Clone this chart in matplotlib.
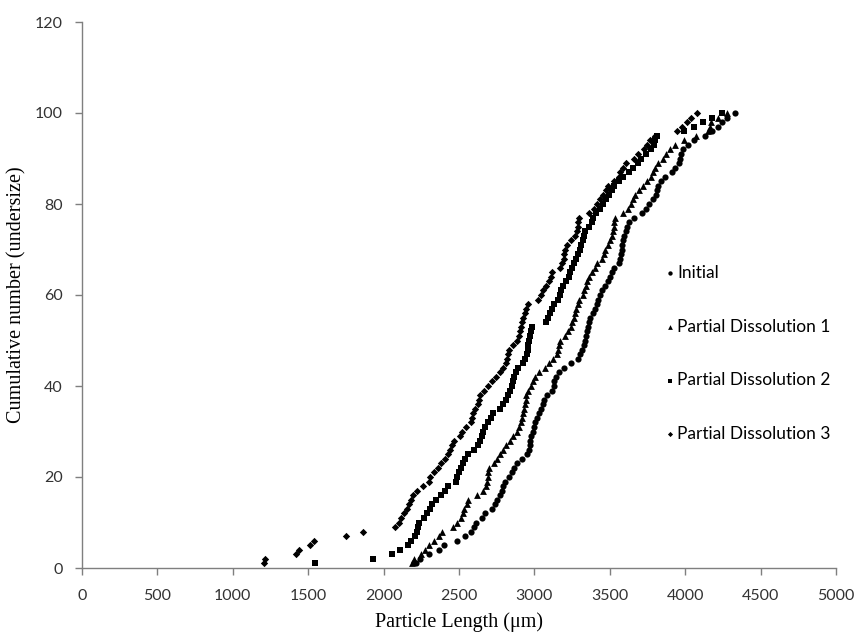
import numpy as np
import matplotlib
matplotlib.use('Agg')
import matplotlib.pyplot as plt

# particle lengths (um), sorted, one value per particle -> cumulative count 1..100
initial = [2215, 2240, 2300, 2370, 2400, 2490, 2540, 2580, 2600, 2615,
           2650, 2675, 2720, 2740, 2755, 2770, 2785, 2795, 2805, 2830,
           2850, 2865, 2885, 2920, 2950, 2965, 2968, 2972, 2980, 2990,
           2997, 3003, 3015, 3030, 3042, 3055, 3066, 3085, 3115, 3127,
           3133, 3140, 3160, 3195, 3240, 3290, 3305, 3318, 3332, 3338,
           3343, 3347, 3355, 3362, 3369, 3390, 3405, 3414, 3422, 3435,
           3450, 3465, 3488, 3500, 3512, 3525, 3560, 3570, 3575, 3580,
           3584, 3588, 3595, 3605, 3614, 3625, 3660, 3712, 3740, 3762,
           3785, 3808, 3815, 3820, 3840, 3868, 3910, 3935, 3958, 3968,
           3974, 3985, 4020, 4060, 4130, 4180, 4215, 4245, 4275, 4330]

pd1 = [2190, 2200, 2250, 2275, 2300, 2335, 2365, 2390, 2460, 2490,
       2515, 2525, 2535, 2550, 2560, 2620, 2660, 2678, 2688, 2693,
       2695, 2700, 2730, 2755, 2770, 2790, 2810, 2835, 2858, 2882,
       2898, 2908, 2916, 2923, 2930, 2938, 2942, 2947, 2960, 2978,
       2992, 3005, 3030, 3068, 3100, 3125, 3148, 3155, 3162, 3172,
       3203, 3225, 3242, 3252, 3262, 3270, 3278, 3286, 3296, 3320,
       3330, 3340, 3347, 3365, 3382, 3400, 3418, 3445, 3460, 3466,
       3485, 3502, 3512, 3522, 3526, 3530, 3535, 3585, 3618, 3640,
       3655, 3670, 3695, 3720, 3745, 3770, 3786, 3800, 3822, 3850,
       3875, 3900, 3930, 3990, 4070, 4150, 4162, 4174, 4215, 4275]

pd2 = [1545, 1930, 2055, 2112, 2165, 2185, 2205, 2220, 2228, 2238,
       2265, 2285, 2305, 2320, 2345, 2380, 2405, 2430, 2480, 2490,
       2497, 2512, 2528, 2542, 2562, 2600, 2625, 2640, 2650, 2660,
       2672, 2690, 2710, 2726, 2772, 2795, 2810, 2825, 2840, 2850,
       2860, 2868, 2878, 2890, 2925, 2938, 2948, 2955, 2958, 2962,
       2968, 2978, 2985, 3075, 3090, 3105, 3115, 3130, 3155, 3168,
       3178, 3190, 3210, 3228, 3238, 3248, 3262, 3278, 3290, 3300,
       3310, 3320, 3328, 3336, 3360, 3382, 3388, 3410, 3432, 3455,
       3475, 3495, 3512, 3530, 3560, 3590, 3625, 3655, 3685, 3710,
       3740, 3770, 3792, 3800, 3812, 3990, 4060, 4120, 4180, 4242]

pd3 = [1210, 1212, 1420, 1440, 1510, 1540, 1750, 1865, 2075, 2105,
       2118, 2132, 2158, 2170, 2180, 2198, 2220, 2262, 2298, 2306,
       2335, 2360, 2382, 2410, 2430, 2440, 2452, 2465, 2505, 2522,
       2545, 2580, 2588, 2594, 2605, 2625, 2635, 2642, 2665, 2695,
       2722, 2748, 2770, 2795, 2810, 2820, 2826, 2834, 2860, 2885,
       2896, 2902, 2910, 2918, 2926, 2935, 2945, 2960, 3025, 3045,
       3060, 3080, 3095, 3108, 3118, 3170, 3185, 3193, 3198, 3203,
       3218, 3245, 3268, 3282, 3290, 3292, 3298, 3360, 3392, 3415,
       3435, 3457, 3475, 3490, 3530, 3558, 3566, 3585, 3610, 3660,
       3690, 3725, 3748, 3765, 3800, 3945, 3978, 4010, 4040, 4076]

labels = ['Initial', 'Partial Dissolution 1', 'Partial Dissolution 2', 'Partial Dissolution 3']
xticks = [0, 500, 1000, 1500, 2000, 2500, 3000, 3500, 4000, 4500, 5000]
yticks = [0, 20, 40, 60, 80, 100, 120]

fig = plt.figure(figsize=(8.57, 6.33), dpi=100)
ax = fig.add_axes([82/857, 1 - 568/633, (836 - 82)/857, (568 - 22)/633])

markers = ['o', '^', 's', 'D']
sizes = [20, 24, 22, 14]
for xs, lab, m, s in zip([initial, pd1, pd2, pd3], labels, markers, sizes):
    cum = np.arange(1, len(xs) + 1)
    ax.scatter(xs, cum, marker=m, s=s, color='black', linewidths=0, label=lab, clip_on=False)

ax.set_xlim(0, 5000)
ax.set_ylim(0, 120)
ax.set_xticks(xticks)
ax.set_yticks(yticks)
for sp in ['top', 'right']:
    ax.spines[sp].set_visible(False)
for sp in ['left', 'bottom']:
    ax.spines[sp].set_color('#7f7f7f')
    ax.spines[sp].set_linewidth(1.0)
ax.tick_params(direction='out', length=5, width=1, color='#7f7f7f', labelsize=11.5)
ax.tick_params(axis='x', pad=10)
ax.tick_params(axis='y', pad=9)
for t in ax.get_xticklabels() + ax.get_yticklabels():
    t.set_fontfamily('Lato')
    t.set_color('#333333')

ax.set_xlabel('Particle Length (\u03bcm)', fontfamily='Liberation Serif', fontsize=14.5, labelpad=7)
ax.set_ylabel('Cumulative number (undersize)', fontfamily='Liberation Serif', fontsize=14.5, labelpad=6)

leg = ax.legend(loc='upper left', bbox_to_anchor=(666.5/857, 1 - 265/633), bbox_transform=fig.transFigure,
                frameon=False, prop={'family': 'Lato', 'size': 12.5}, labelspacing=2.17,
                handlelength=0.4, handletextpad=0.2, borderpad=0, borderaxespad=0, markerscale=0.7)

fig.savefig('out.png', dpi=100)
